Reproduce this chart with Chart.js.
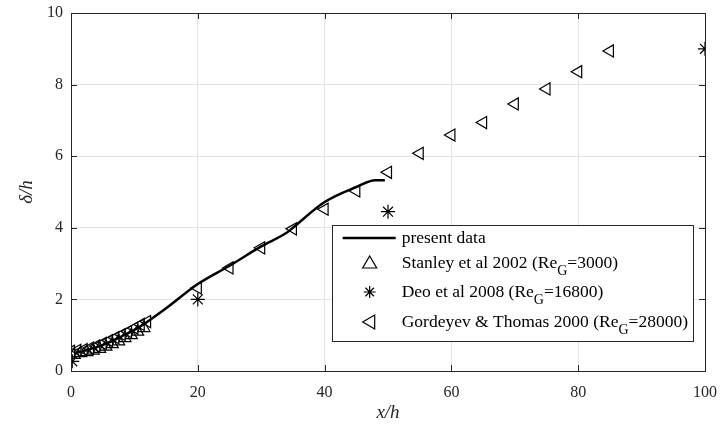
<!DOCTYPE html>
<html>
<head>
<meta charset="utf-8">
<script src="https://cdn.jsdelivr.net/npm/chart.js@4/dist/chart.umd.min.js"></script>
<style>
  html, body { margin: 0; padding: 0; background: #fff; }
  #wrap { width: 722px; height: 432px; position: relative; }
</style>
</head>
<body>
<div id="wrap"><canvas id="chart"></canvas></div>
<script>
// present data (solid line)
const presentX = [0.5, 2, 4, 6, 8, 10, 12, 15, 20, 25, 30, 34, 35, 40, 45, 48, 49.5];
const presentY = [0.5, 0.56, 0.66, 0.8, 0.97, 1.15, 1.37, 1.75, 2.43, 2.94, 3.48, 3.86, 4.0, 4.72, 5.14, 5.33, 5.33];

// Stanley et al 2002
const stanleyX = [0.5, 1.5, 2.5, 3.5, 4.5, 5.5, 6.5, 7.5, 8.5, 9.5, 10.5, 11.5];
const stanleyY = [0.45, 0.5, 0.53, 0.57, 0.62, 0.68, 0.75, 0.83, 0.92, 1.0, 1.1, 1.2];

// Deo et al 2008
const deoX = [0.2, 20, 50, 100];
const deoY = [0.27, 2.0, 4.45, 9.0];

// Gordeyev & Thomas 2000
const gordX = [0, 1, 2, 3, 4, 5, 6, 7, 8, 9, 10, 11, 12, 20, 25, 30, 35, 40, 45, 50, 55, 60, 65, 70, 75, 80, 85];
const gordY = [0.55, 0.58, 0.6, 0.64, 0.7, 0.77, 0.85, 0.93, 1.02, 1.1, 1.2, 1.3, 1.38,
               2.32, 2.88, 3.44, 3.97, 4.52, 5.03, 5.55, 6.08, 6.59, 6.94, 7.46, 7.88, 8.36, 8.94];

const xTicks = [0, 20, 40, 60, 80, 100];
const yTicks = [0, 2, 4, 6, 8, 10];

const seriesLabels = [
  'present data',
  'Stanley et al 2002 (Re_G=3000)',
  'Deo et al 2008 (Re_G=16800)',
  'Gordeyev & Thomas 2000 (Re_G=28000)'
];

const axisColor = '#262626';
const serif = '"Liberation Serif", "DejaVu Serif", serif';

function pts(xs, ys) {
  return xs.map((x, i) => ({ x: x, y: ys[i] }));
}

// MATLAB-like axes box with inward ticks
const boxPlugin = {
  id: 'box',
  afterDatasetsDraw(chart) {
    const { ctx, chartArea: a, scales } = chart;
    ctx.save();
    ctx.strokeStyle = axisColor;
    ctx.lineWidth = 1;
    ctx.strokeRect(a.left + 0.5, a.top + 0.5, a.right - a.left, a.bottom - a.top);
    ctx.beginPath();
    const len = 6;
    xTicks.forEach(t => {
      const px = Math.round(scales.x.getPixelForValue(t)) + 0.5;
      ctx.moveTo(px, a.bottom); ctx.lineTo(px, a.bottom - len);
      ctx.moveTo(px, a.top); ctx.lineTo(px, a.top + len);
    });
    yTicks.forEach(t => {
      const py = Math.round(scales.y.getPixelForValue(t)) + 0.5;
      ctx.moveTo(a.left, py); ctx.lineTo(a.left + len, py);
      ctx.moveTo(a.right, py); ctx.lineTo(a.right - len, py);
    });
    ctx.stroke();
    ctx.restore();
  }
};

function drawMarker(ctx, style, x, y) {
  ctx.beginPath();
  if (style === 'line') {
    ctx.lineWidth = 2.5;
    ctx.moveTo(x - 27, y); ctx.lineTo(x + 26, y);
  } else if (style === 'up') {
    ctx.lineWidth = 1.2;
    ctx.moveTo(x, y - 7); ctx.lineTo(x + 7, y + 5); ctx.lineTo(x - 7, y + 5); ctx.closePath();
  } else if (style === 'left') {
    ctx.lineWidth = 1.2;
    ctx.moveTo(x - 7, y); ctx.lineTo(x + 5, y - 7); ctx.lineTo(x + 5, y + 7); ctx.closePath();
  } else if (style === 'star') {
    ctx.lineWidth = 1.2;
    const r = 6;
    for (let k = 0; k < 4; k++) {
      const ang = k * Math.PI / 4;
      ctx.moveTo(x - r * Math.cos(ang), y - r * Math.sin(ang));
      ctx.lineTo(x + r * Math.cos(ang), y + r * Math.sin(ang));
    }
  }
  ctx.stroke();
}

// legend with subscripts (Re_G)
const legendPlugin = {
  id: 'subLegend',
  afterDraw(chart) {
    const { ctx, chartArea: a } = chart;
    const styles = ['line', 'up', 'star', 'left'];
    const rows = [13, 38, 67, 97];
    const font = '17.5px ' + serif;
    const subFont = '14px ' + serif;
    ctx.save();
    // measure widest label
    let maxW = 0;
    seriesLabels.forEach(lbl => {
      const parts = lbl.split('_G');
      ctx.font = font;
      let w = ctx.measureText(parts[0]).width;
      if (parts.length > 1) {
        ctx.font = subFont;
        w += ctx.measureText('G').width;
        ctx.font = font;
        w += ctx.measureText(parts[1]).width;
      }
      maxW = Math.max(maxW, w);
    });
    const right = a.right - 12;
    const bottom = a.bottom - 30;
    const height = 116;
    const textOff = 70;
    const left = right - textOff - maxW - 5;
    const top = bottom - height;
    ctx.fillStyle = '#fff';
    ctx.fillRect(left, top, right - left, height);
    ctx.strokeStyle = axisColor;
    ctx.lineWidth = 1;
    ctx.strokeRect(Math.round(left) + 0.5, Math.round(top) + 0.5, Math.round(right - left), height);
    ctx.strokeStyle = '#000';
    ctx.fillStyle = '#000';
    ctx.textBaseline = 'middle';
    seriesLabels.forEach((lbl, i) => {
      const cy = top + rows[i];
      drawMarker(ctx, styles[i], left + 38, cy);
      const parts = lbl.split('_G');
      let tx = left + textOff;
      ctx.font = font;
      ctx.fillText(parts[0], tx, cy);
      tx += ctx.measureText(parts[0]).width;
      if (parts.length > 1) {
        ctx.font = subFont;
        ctx.fillText('G', tx, cy + 8);
        tx += ctx.measureText('G').width;
        ctx.font = font;
        ctx.fillText(parts[1], tx, cy);
      }
    });
    ctx.restore();
  }
};

new Chart(document.getElementById('chart'), {
  type: 'scatter',
  data: {
    datasets: [{
      label: seriesLabels[0],
      data: pts(presentX, presentY),
      showLine: true,
      cubicInterpolationMode: 'monotone',
      borderColor: '#000',
      borderWidth: 2.5,
      pointRadius: 0,
      fill: false
    }, {
      label: seriesLabels[1],
      data: pts(stanleyX, stanleyY),
      pointStyle: 'triangle',
      pointRadius: 7,
      borderColor: '#000',
      borderWidth: 1.2,
      backgroundColor: 'rgba(0,0,0,0)'
    }, {
      label: seriesLabels[2],
      data: pts(deoX, deoY),
      pointStyle: 'star',
      pointRadius: 7,
      borderColor: '#000',
      borderWidth: 1.2,
      backgroundColor: 'rgba(0,0,0,0)'
    }, {
      label: seriesLabels[3],
      data: pts(gordX, gordY),
      pointStyle: 'triangle',
      rotation: -90,
      pointRadius: 7,
      borderColor: '#000',
      borderWidth: 1.2,
      backgroundColor: 'rgba(0,0,0,0)'
    }]
  },
  options: {
    responsive: true,
    maintainAspectRatio: false,
    animation: false,
    layout: { padding: { left: 0, right: 17, top: 13, bottom: 0 } },
    plugins: {
      legend: { display: false },
      tooltip: { enabled: false }
    },
    scales: {
      x: {
        type: 'linear',
        min: 0,
        max: 100,
        afterFit: axis => {
          axis.height = 61;
          axis.paddingLeft = 0;
          axis.paddingRight = 0;
        },
        afterBuildTicks: axis => { axis.ticks = xTicks.map(v => ({ value: v })); },
        grid: { color: '#e3e3e3', drawTicks: false },
        border: { display: false },
        ticks: { color: axisColor, padding: 12, font: { family: serif, size: 16 } },
        title: {
          display: true,
          text: 'x/h',
          color: axisColor,
          padding: { top: 0, bottom: 8 },
          font: { family: serif, size: 19, style: 'italic' }
        }
      },
      y: {
        type: 'linear',
        min: 0,
        max: 10,
        afterFit: axis => {
          axis.width = 71;
          axis.paddingTop = 0;
          axis.paddingBottom = 0;
        },
        afterBuildTicks: axis => { axis.ticks = yTicks.map(v => ({ value: v })); },
        grid: { color: '#e3e3e3', drawTicks: false },
        border: { display: false },
        ticks: { color: axisColor, padding: 8, font: { family: serif, size: 16 } },
        title: {
          display: true,
          text: 'δ/h',
          color: axisColor,
          padding: { top: 16, bottom: 0 },
          font: { family: serif, size: 19, style: 'italic' }
        }
      }
    }
  },
  plugins: [boxPlugin, legendPlugin]
});
</script>
</body>
</html>
